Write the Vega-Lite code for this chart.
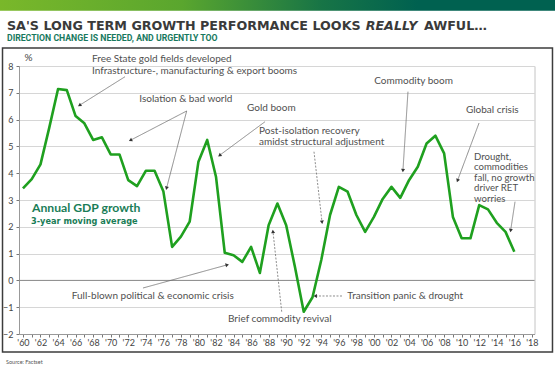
{
  "$schema": "https://vega.github.io/schema/vega-lite/v6.json",
  "width": 515.5,
  "height": 268,
  "autosize": {"type": "none"},
  "padding": {"left": 19, "top": 66, "right": 20.5, "bottom": 35},
  "background": "white",
  "config": {
    "view": {"stroke": "#c4c4c4", "strokeWidth": 1},
    "font": "Lato",
    "axis": {"labelOverlap": false, "labelFlush": false, "tickSize": 3, "tickColor": "#777", "domainColor": "#999", "labelFont": "Lato", "labelFontSize": 9, "labelColor": "#444"},
    "axisX": {"grid": false, "labelPadding": 1.5},
    "axisY": {"grid": true, "gridColor": "#d6d6d6", "gridWidth": 1, "labelPadding": 3}
  },
  "datasets": {
    "gdp": [
      {"year": 1960, "growth": 3.43}, {"year": 1961, "growth": 3.78}, {"year": 1962, "growth": 4.33},
      {"year": 1963, "growth": 5.7}, {"year": 1964, "growth": 7.14}, {"year": 1965, "growth": 7.1},
      {"year": 1966, "growth": 6.13}, {"year": 1967, "growth": 5.86}, {"year": 1968, "growth": 5.24},
      {"year": 1969, "growth": 5.34}, {"year": 1970, "growth": 4.7}, {"year": 1971, "growth": 4.7},
      {"year": 1972, "growth": 3.74}, {"year": 1973, "growth": 3.52}, {"year": 1974, "growth": 4.09},
      {"year": 1975, "growth": 4.09}, {"year": 1976, "growth": 3.33}, {"year": 1977, "growth": 1.25},
      {"year": 1978, "growth": 1.63}, {"year": 1979, "growth": 2.19}, {"year": 1980, "growth": 4.43},
      {"year": 1981, "growth": 5.24}, {"year": 1982, "growth": 3.87}, {"year": 1983, "growth": 1.03},
      {"year": 1984, "growth": 0.94}, {"year": 1985, "growth": 0.69}, {"year": 1986, "growth": 1.25},
      {"year": 1987, "growth": 0.28}, {"year": 1988, "growth": 2.06}, {"year": 1989, "growth": 2.87},
      {"year": 1990, "growth": 2.06}, {"year": 1991, "growth": 0.5}, {"year": 1992, "growth": -1.17},
      {"year": 1993, "growth": -0.63}, {"year": 1994, "growth": 0.76}, {"year": 1995, "growth": 2.44},
      {"year": 1996, "growth": 3.49}, {"year": 1997, "growth": 3.31}, {"year": 1998, "growth": 2.44},
      {"year": 1999, "growth": 1.81}, {"year": 2000, "growth": 2.37}, {"year": 2001, "growth": 3.04},
      {"year": 2002, "growth": 3.49}, {"year": 2003, "growth": 3.08}, {"year": 2004, "growth": 3.74},
      {"year": 2005, "growth": 4.24}, {"year": 2006, "growth": 5.11}, {"year": 2007, "growth": 5.4},
      {"year": 2008, "growth": 4.74}, {"year": 2009, "growth": 2.37}, {"year": 2010, "growth": 1.57},
      {"year": 2011, "growth": 1.57}, {"year": 2012, "growth": 2.81}, {"year": 2013, "growth": 2.65},
      {"year": 2014, "growth": 2.15}, {"year": 2015, "growth": 1.81}, {"year": 2016, "growth": 1.07}
    ],
    "notes": [
      {"year": 1967.87, "value": 8.261, "label": "Free State gold fields developed"},
      {"year": 1967.87, "value": 7.813, "label": "Infrastructure-, manufacturing & export booms"},
      {"year": 1973.26, "value": 6.757, "label": "Isolation & bad world"},
      {"year": 1985.54, "value": 6.42, "label": "Gold boom"},
      {"year": 1986.9, "value": 5.575, "label": "Post-isolation recovery"},
      {"year": 1986.9, "value": 5.153, "label": "amidst structural adjustment"},
      {"year": 2000.04, "value": 7.44, "label": "Commodity boom"},
      {"year": 2010.49, "value": 6.358, "label": "Global crisis"},
      {"year": 1965.56, "value": -0.582, "label": "Full-blown political & economic crisis"},
      {"year": 1983.37, "value": -1.451, "label": "Brief commodity revival"},
      {"year": 1996.97, "value": -0.582, "label": "Transition panic & drought"}
    ],
    "drought": [
      {"year": 2011.41, "value": 4.616, "label": "Drought,"},
      {"year": 2011.41, "value": 4.224, "label": "commodities"},
      {"year": 2011.41, "value": 3.832, "label": "fall, no growth"},
      {"year": 2011.41, "value": 3.44, "label": "driver RET"},
      {"year": 2011.41, "value": 3.049, "label": "worries"}
    ],
    "arrows": [
      {"note": "Free State", "x1": 1971.63, "y1": 7.6, "x2": 1966.5, "y2": 6.545},
      {"note": "Isolation a", "x1": 1978.66, "y1": 6.321, "x2": 1972.31, "y2": 5.239},
      {"note": "Isolation b", "x1": 1978.66, "y1": 6.321, "x2": 1976.38, "y2": 3.459},
      {"note": "Gold boom", "x1": 1987.59, "y1": 5.922, "x2": 1982.46, "y2": 4.679},
      {"note": "Post-isolation", "x1": 1993.17, "y1": 4.802, "x2": 1994.08, "y2": 2.19},
      {"note": "Commodity boom", "x1": 2003.88, "y1": 7.041, "x2": 2003.31, "y2": 4.119},
      {"note": "Global crisis", "x1": 2011.98, "y1": 5.873, "x2": 2009.55, "y2": 3.746},
      {"note": "Drought", "x1": 2016.08, "y1": 2.937, "x2": 2015.59, "y2": 1.881},
      {"note": "Full-blown", "x1": 1973.68, "y1": -0.284, "x2": 1983.22, "y2": 0.575},
      {"note": "Brief commodity", "x1": 1989.49, "y1": -1.168, "x2": 1988.5, "y2": 1.806},
      {"note": "Transition", "x1": 1996.36, "y1": -0.582, "x2": 1993.37, "y2": -0.582}
    ]
  },
  "layer": [
    {
      "data": {"name": "gdp"},
      "mark": {"type": "line", "color": "#1fa01f", "strokeWidth": 2.6, "opacity": 0},
      "encoding": {
        "x": {
          "field": "year", "type": "quantitative",
          "scale": {"domain": [1959.55, 2018.3], "nice": false, "zero": false},
          "axis": {
            "title": null,
            "tickCount": 100,
            "values": [1960,1961,1962,1963,1964,1965,1966,1967,1968,1969,1970,1971,1972,1973,1974,1975,1976,1977,1978,1979,1980,1981,1982,1983,1984,1985,1986,1987,1988,1989,1990,1991,1992,1993,1994,1995,1996,1997,1998,1999,2000,2001,2002,2003,2004,2005,2006,2007,2008,2009,2010,2011,2012,2013,2014,2015,2016,2017,2018],
            "labelExpr": "datum.value % 2 === 0 ? \"'\" + slice(toString(datum.value), 2) : ''",
            "labelOverlap": false
          }
        },
        "y": {
          "field": "growth", "type": "quantitative",
          "scale": {"domain": [-2, 8], "nice": false, "zero": false},
          "axis": {
            "tickCount": 20,
            "values": [-2,-1,0,1,2,3,4,5,6,7,8],
            "format": "d",
            "labelOverlap": false,
            "title": "%", "titleAngle": 0, "titleX": 5, "titleY": -9, "titleAlign": "left", "titleBaseline": "middle",
            "titleFont": "Lato", "titleFontSize": 10, "titleFontWeight": "normal", "titleColor": "#444"
          }
        }
      }
    },
    {
      "data": {"values": [{"part": "bar"}]},
      "mark": {"type": "rect", "fill": {"gradient": "linear", "x1": 0, "y1": 0, "x2": 1, "y2": 0, "stops": [{"offset": 0, "color": "#7ab82a"}, {"offset": 0.33, "color": "#5aa62e"}, {"offset": 0.58, "color": "#177446"}, {"offset": 0.75, "color": "#006150"}, {"offset": 1, "color": "#006150"}]}},
      "encoding": {
        "x": {"datum": 1957, "type": "quantitative"},
        "x2": {"datum": 2021},
        "y": {"datum": 10.7, "type": "quantitative"},
        "y2": {"datum": 10.063}
      }
    },
    {
      "data": {"values": [{"part": "frame"}]},
      "mark": {"type": "rect", "fill": "transparent", "stroke": "#3c3c3c", "strokeWidth": 1.5},
      "encoding": {
        "x": {"datum": 1957.67, "type": "quantitative"},
        "x2": {"datum": 2020.35},
        "y": {"datum": 8.672, "type": "quantitative"},
        "y2": {"datum": -2.672}
      }
    },
    {
      "data": {"values": [{"part": "zero"}]},
      "mark": {"type": "rule", "color": "#8a8a8a", "strokeWidth": 1},
      "encoding": {
        "y": {"datum": 0, "type": "quantitative"}
      }
    },
    {
      "data": {"name": "arrows"},
      "mark": {"type": "rule", "color": "#707070", "strokeWidth": 0.8},
      "encoding": {
        "x": {"field": "x1", "type": "quantitative"},
        "x2": {"field": "x2"},
        "y": {"field": "y1", "type": "quantitative"},
        "y2": {"field": "y2"},
        "strokeDash": {"condition": {"test": "datum.note === 'Transition' || datum.note === 'Brief commodity' || datum.note === 'Post-isolation'", "value": [2, 1.5]}, "value": [1, 0]}
      }
    },
    {
      "data": {"name": "arrows"},
      "transform": [{"calculate": "atan2((datum.x2 - datum.x1) * 8.774, (datum.y2 - datum.y1) * 26.8) * 180 / PI", "as": "angle"}],
      "mark": {"type": "point", "shape": "triangle", "filled": true, "color": "#333", "size": 16, "opacity": 1},
      "encoding": {
        "x": {"field": "x2", "type": "quantitative"},
        "y": {"field": "y2", "type": "quantitative"},
        "angle": {"field": "angle", "type": "quantitative", "scale": null}
      }
    },
    {
      "data": {"name": "gdp"},
      "mark": {"type": "line", "color": "#1fa01f", "strokeWidth": 2.6, "strokeJoin": "round"},
      "encoding": {
        "x": {"field": "year", "type": "quantitative"},
        "y": {"field": "growth", "type": "quantitative"}
      }
    },
    {
      "data": {"name": "notes"},
      "mark": {"type": "text", "align": "left", "baseline": "middle", "font": "Lato", "fontSize": 10, "color": "#505050"},
      "encoding": {
        "x": {"field": "year", "type": "quantitative"},
        "y": {"field": "value", "type": "quantitative"},
        "text": {"field": "label"}
      }
    },
    {
      "data": {"name": "drought"},
      "mark": {"type": "text", "align": "left", "baseline": "middle", "font": "Lato", "fontSize": 9.6, "color": "#505050"},
      "encoding": {
        "x": {"field": "year", "type": "quantitative"},
        "y": {"field": "value", "type": "quantitative"},
        "text": {"field": "label"}
      }
    },
    {
      "data": {"values": [
        {"year": 1958.18, "value": 9.511, "label": "SA'S LONG TERM GROWTH PERFORMANCE LOOKS"},
        {"year": 2005.7, "value": 9.511, "label": "AWFUL…"}
      ]},
      "mark": {"type": "text", "align": "left", "baseline": "middle", "font": "DejaVu Sans", "fontWeight": "bold", "fontSize": 12.7, "color": "#3a3a3a"},
      "encoding": {
        "x": {"field": "year", "type": "quantitative"},
        "y": {"field": "value", "type": "quantitative"},
        "text": {"field": "label"}
      }
    },
    {
      "data": {"values": [
        {"year": 1999.06, "value": 9.511, "label": "REALLY"}
      ]},
      "mark": {"type": "text", "align": "left", "baseline": "middle", "font": "DejaVu Sans", "fontWeight": "bold", "fontStyle": "italic", "fontSize": 12.7, "color": "#3a3a3a"},
      "encoding": {
        "x": {"field": "year", "type": "quantitative"},
        "y": {"field": "value", "type": "quantitative"},
        "text": {"field": "label"}
      }
    },
    {
      "data": {"values": [
        {"year": 1958.18, "value": 9.045, "label": "DIRECTION CHANGE IS NEEDED, AND URGENTLY TOO"}
      ]},
      "mark": {"type": "text", "align": "left", "baseline": "middle", "font": "Roboto", "fontWeight": "bold", "fontSize": 8.7, "color": "#17795e"},
      "encoding": {
        "x": {"field": "year", "type": "quantitative"},
        "y": {"field": "value", "type": "quantitative"},
        "text": {"field": "label"}
      }
    },
    {
      "data": {"values": [
        {"year": 1961.03, "value": 2.683, "label": "Annual GDP growth"}
      ]},
      "mark": {"type": "text", "align": "left", "baseline": "middle", "font": "Lato", "fontWeight": "bold", "fontSize": 12.2, "color": "#1a7d57"},
      "encoding": {
        "x": {"field": "year", "type": "quantitative"},
        "y": {"field": "value", "type": "quantitative"},
        "text": {"field": "label"}
      }
    },
    {
      "data": {"values": [
        {"year": 1960.92, "value": 2.179, "label": "3-year moving average"}
      ]},
      "mark": {"type": "text", "align": "left", "baseline": "middle", "font": "DejaVu Sans", "fontWeight": "bold", "fontSize": 8.2, "color": "#1a7d57"},
      "encoding": {
        "x": {"field": "year", "type": "quantitative"},
        "y": {"field": "value", "type": "quantitative"},
        "text": {"field": "label"}
      }
    },
    {
      "data": {"values": [
        {"year": 1958.07, "value": -3.045, "label": "Source: Factset"}
      ]},
      "mark": {"type": "text", "align": "left", "baseline": "middle", "font": "Lato", "fontSize": 5.5, "color": "#555"},
      "encoding": {
        "x": {"field": "year", "type": "quantitative"},
        "y": {"field": "value", "type": "quantitative"},
        "text": {"field": "label"}
      }
    }
  ]
}
